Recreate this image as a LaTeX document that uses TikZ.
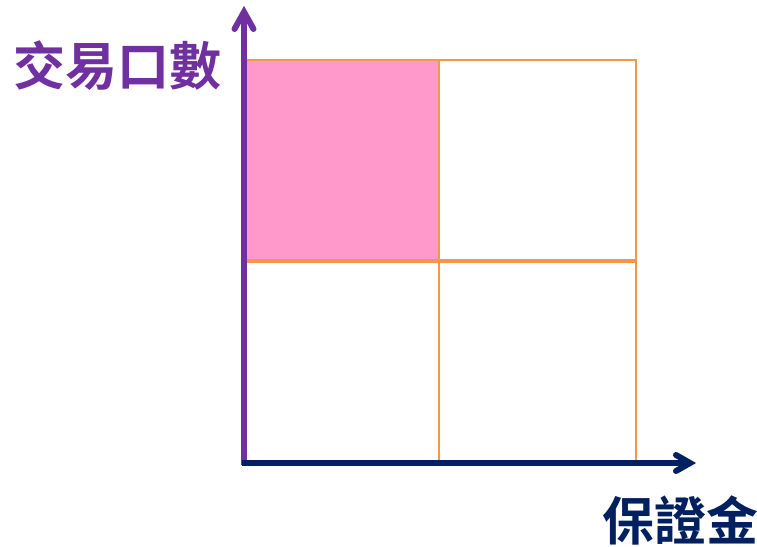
\documentclass[tikz,border=0pt]{standalone}
\usepackage{fontspec}
\newfontfamily\cjk{Noto Sans CJK TC}[BoldFont={Noto Sans CJK TC Bold}]
\definecolor{axpurple}{HTML}{7030A0}
\definecolor{axnavy}{HTML}{002060}
\definecolor{gridorange}{HTML}{F79646}
\definecolor{cellpink}{HTML}{FF99CC}
\begin{document}
\begin{tikzpicture}[x=1pt,y=-1pt,
  gridline/.style={draw=gridorange,line width=2.2pt},
  axisline/.style={line width=5.5pt},
  barb/.style={line width=6pt,line cap=round,line join=miter,miter limit=10},
  axislabel/.style={font=\cjk\fontsize{52}{52}\selectfont\bfseries}]
\useasboundingbox (0,0) rectangle (757,546);
\coordinate (tl) at (244,60);
\coordinate (mm) at (439,261);
\coordinate (br) at (636,462);
\fill[cellpink] (tl) rectangle (mm);
\draw[gridline] (tl) rectangle (br);
\draw[gridline] (439,60) -- (439,462);
\draw[draw=gridorange,line width=4.5pt] (244,261) -- (636,261);
\coordinate (ybase) at (244,465);
\coordinate (xbase) at (242,463);
\coordinate (ytip) at (244,12);
\coordinate (xtip) at (690,463);
\draw[axisline,axpurple] (ybase) -- (ytip);
\draw[barb,axpurple] ([shift={(-9.5,17)}]ytip) -- (ytip) -- ([shift={(9.5,17)}]ytip);
\draw[axisline,axnavy] (xbase) -- (xtip);
\draw[barb,axnavy] ([shift={(-14,-8)}]xtip) -- (xtip) -- ([shift={(-14,8)}]xtip);
\node[axislabel,text=axpurple] (ylab) at (117,66) {交易口數};
\node[axislabel,text=axnavy] (xlab) at (680,520) {保證金};
\end{tikzpicture}
\end{document}
